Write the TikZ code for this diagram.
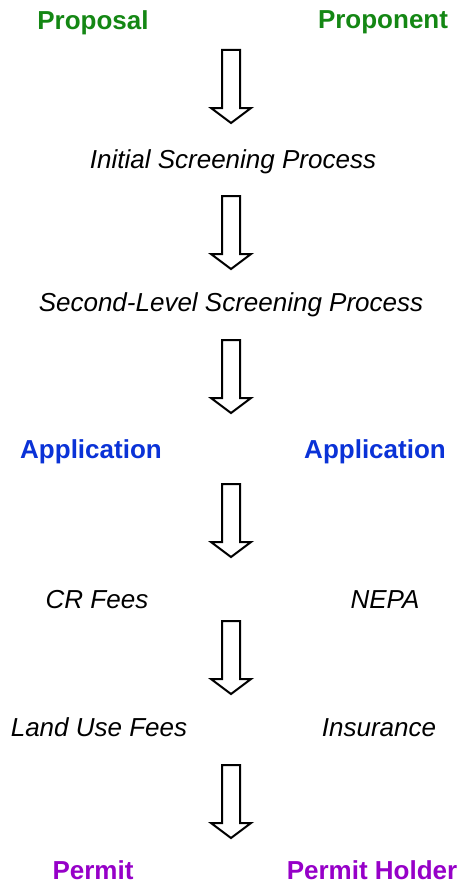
\documentclass[tikz,border=0pt]{standalone}
\usepackage{fontspec}
\setmainfont{Liberation Sans}
\definecolor{pgreen}{RGB}{20,135,20}
\definecolor{pblue}{RGB}{10,50,215}
\definecolor{ppurple}{RGB}{150,0,200}
\tikzset{
  x=1pt,y=-1pt,
  lbl/.style={inner sep=0pt,anchor=base,font=\fontsize{26}{31}\selectfont},
  boldg/.style={lbl,font=\fontsize{26}{31}\selectfont\bfseries,text=pgreen},
  boldb/.style={lbl,font=\fontsize{26}{31}\selectfont\bfseries,text=pblue},
  boldp/.style={lbl,font=\fontsize{26}{31}\selectfont\bfseries,text=ppurple},
  ital/.style={lbl,font=\fontsize{26}{31}\selectfont\itshape,text=black},
  blockarrow/.pic={\draw[line width=2pt,fill=white,line join=miter]
    (-9,0) -- (9,0) -- (9,58) -- (20,58) -- (0,73) -- (-20,58) -- (-9,58) -- cycle;}
}
\begin{document}
\begin{tikzpicture}
\useasboundingbox (0,0) rectangle (459,883);
\node[boldg] (proposal) at (93,30) {Proposal};
\node[boldg] (proponent) at (383,29) {Proponent};
\node[ital] (initial) at (233,168) {Initial Screening Process};
\node[ital] (second) at (231,311) {Second-Level Screening Process};
\node[boldb] (appl) at (91,458) {Application};
\node[boldb] (appr) at (375,458) {Application};
\node[ital] (crfees) at (97,608) {CR Fees};
\node[ital] (nepa) at (385,608) {NEPA};
\node[ital] (landuse) at (99,736) {Land Use Fees};
\node[ital] (insurance) at (379,736) {Insurance};
\node[boldp] (permit) at (93,879) {Permit};
\node[boldp] (holder) at (372,879) {Permit Holder};
\pic at (231,50) {blockarrow};
\pic at (231,196) {blockarrow};
\pic at (231,340) {blockarrow};
\pic at (231,484) {blockarrow};
\pic at (231,621) {blockarrow};
\pic at (231,765) {blockarrow};
\end{tikzpicture}
\end{document}
